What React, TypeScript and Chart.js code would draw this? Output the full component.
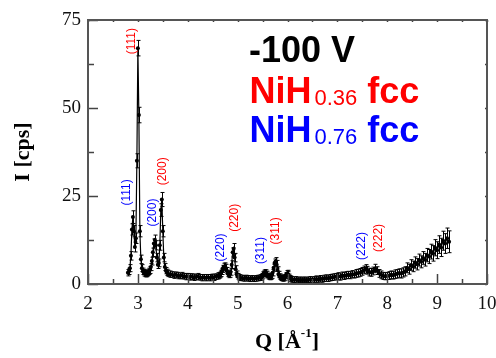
import { useEffect, useRef } from "react";
import { Chart, registerables } from "chart.js";

Chart.register(...registerables);

// ---- data ----
const qValues = [
  2.80, 2.82, 2.84, 2.86, 2.88, 2.90, 2.92, 2.94, 2.96, 2.98,
  3.00, 3.02, 3.04, 3.06, 3.08, 3.10, 3.12, 3.14, 3.16, 3.18,
  3.20, 3.22, 3.24, 3.26, 3.28, 3.30, 3.32, 3.34, 3.36, 3.38,
  3.40, 3.42, 3.44, 3.46, 3.48, 3.50, 3.52, 3.54, 3.56, 3.58, 3.60,
  3.64, 3.68, 3.72, 3.76, 3.80, 3.84, 3.88, 3.92, 3.96, 4.00,
  4.04, 4.08, 4.12, 4.16, 4.20, 4.24, 4.28, 4.32, 4.36, 4.40,
  4.44, 4.48, 4.52, 4.56, 4.60,
  4.62, 4.64, 4.66, 4.68, 4.70, 4.72, 4.74, 4.76, 4.78, 4.80,
  4.82, 4.84, 4.86, 4.88, 4.90, 4.92, 4.94, 4.96, 4.98, 5.00, 5.02, 5.04,
  5.08, 5.12, 5.16, 5.20, 5.24, 5.28, 5.32, 5.36, 5.40, 5.44,
  5.46, 5.48, 5.50, 5.52, 5.54, 5.56, 5.58, 5.60, 5.62, 5.64,
  5.66, 5.68, 5.70, 5.72, 5.74, 5.76, 5.78, 5.80, 5.82, 5.84,
  5.86, 5.88, 5.90, 5.92, 5.94, 5.96, 5.98, 6.00, 6.02, 6.04,
  6.06, 6.08, 6.10,
  6.14, 6.18, 6.22, 6.26, 6.30, 6.34, 6.38, 6.42, 6.46, 6.50,
  6.54, 6.58, 6.62, 6.66, 6.70, 6.74, 6.78, 6.82, 6.86, 6.90,
  6.94, 6.98, 7.02, 7.06, 7.10, 7.14, 7.18, 7.22, 7.26, 7.30, 7.34, 7.38,
  7.42, 7.46, 7.50, 7.54, 7.57, 7.60, 7.64, 7.68, 7.72, 7.76,
  7.80, 7.84, 7.88, 7.92, 7.96, 8.00,
  8.04, 8.08, 8.12, 8.16, 8.20, 8.24, 8.28, 8.32, 8.36, 8.40,
  8.44, 8.48, 8.52, 8.56, 8.60, 8.64, 8.68, 8.72, 8.76, 8.80,
  8.84, 8.88, 8.92, 8.96, 9.00, 9.04, 9.08, 9.12, 9.16, 9.20, 9.24,
];

const intensities = [
  3.2, 3.6, 4.5, 8.0, 15.5, 19.0, 15.0, 10.5, 13.0, 35.0,
  67.0, 48.0, 15.0, 7.0, 4.5, 3.6, 3.2, 3.0, 2.9, 3.0,
  3.3, 3.6, 4.0, 4.8, 6.5, 9.0, 11.5, 12.5, 11.0, 7.5,
  5.5, 6.0, 11.0, 21.0, 24.0, 15.0, 7.5, 4.8, 3.8, 3.3, 3.0,
  2.8, 2.7, 2.5, 2.6, 2.4, 2.3, 2.4, 2.2, 2.1, 2.2,
  2.0, 2.1, 1.9, 2.0, 2.1, 1.9, 1.8, 1.9, 1.8, 1.9,
  1.8, 2.0, 1.9, 2.1, 2.3,
  2.4, 2.6, 3.0, 3.6, 4.3, 4.9, 5.0, 4.6, 3.8, 3.0,
  2.6, 2.7, 3.4, 5.5, 9.0, 10.0, 7.5, 4.2, 2.8, 2.2, 1.9, 1.8,
  1.7, 1.6, 1.7, 1.6, 1.5, 1.6, 1.5, 1.6, 1.7, 1.8,
  1.9, 2.2, 2.6, 3.0, 3.2, 3.1, 2.7, 2.3, 2.1, 2.0,
  2.1, 2.4, 3.2, 4.6, 6.0, 6.4, 5.6, 3.9, 2.7, 2.1,
  1.8, 1.7, 1.6, 1.7, 1.9, 2.4, 2.9, 3.0, 2.6, 2.0,
  1.6, 1.4, 1.3,
  1.2, 1.3, 1.1, 1.2, 1.1, 1.2, 1.1, 1.2, 1.3, 1.2,
  1.3, 1.4, 1.3, 1.5, 1.4, 1.6, 1.7, 1.6, 1.8, 1.9,
  2.0, 2.1, 2.2, 2.1, 2.4, 2.3, 2.5, 2.6, 2.5, 2.8, 2.7, 3.0,
  3.1, 3.3, 3.6, 4.0, 4.3, 3.9, 3.4, 3.3, 3.7, 4.4,
  3.8, 3.0, 2.6, 2.3, 2.2, 2.3,
  2.4, 2.6, 2.5, 2.8, 2.9, 3.1, 3.0, 3.3, 3.6, 4.6,
  4.2, 5.4, 5.0, 6.1, 5.6, 6.8, 6.3, 7.4, 6.9, 8.2,
  7.8, 9.2, 8.7, 10.3, 9.6, 11.2, 10.4, 12.3, 11.5, 13.0, 12.0,
];

const errors = [
  0.9, 0.9, 1.0, 1.2, 1.6, 1.8, 1.6, 1.4, 1.5, 2.0,
  2.2, 2.2, 1.6, 1.2, 1.0, 0.9, 0.9, 0.9, 0.9, 0.9,
  0.9, 0.9, 1.0, 1.0, 1.1, 1.2, 1.3, 1.4, 1.3, 1.2,
  1.1, 1.1, 1.4, 1.8, 2.0, 1.6, 1.2, 1.0, 0.9, 0.9, 0.9,
  0.9, 0.8, 0.9, 0.8, 0.9, 0.8, 0.9, 0.8, 0.9, 0.8,
  0.9, 0.8, 0.9, 0.8, 0.9, 0.8, 0.9, 0.8, 0.9, 0.8,
  0.9, 0.8, 0.9, 0.8, 0.9,
  0.8, 0.8, 0.9, 0.9, 1.0, 1.0, 1.0, 1.0, 0.9, 0.9,
  0.8, 0.8, 0.9, 1.1, 1.3, 1.5, 1.2, 1.0, 0.9, 0.8, 0.8, 0.8,
  0.8, 0.8, 0.8, 0.8, 0.8, 0.8, 0.8, 0.8, 0.8, 0.8,
  0.8, 0.8, 0.9, 0.9, 0.9, 0.9, 0.9, 0.8, 0.8, 0.8,
  0.8, 0.8, 0.9, 1.0, 1.1, 1.1, 1.1, 1.0, 0.9, 0.8,
  0.8, 0.8, 0.8, 0.8, 0.8, 0.8, 0.9, 0.9, 0.9, 0.8,
  0.8, 0.8, 0.8,
  0.8, 0.8, 0.8, 0.8, 0.8, 0.8, 0.8, 0.8, 0.8, 0.8,
  0.8, 0.9, 0.8, 0.9, 0.9, 0.9, 0.9, 0.9, 0.9, 0.9,
  0.9, 0.9, 1.0, 1.0, 1.0, 1.0, 1.0, 1.0, 1.0, 1.0, 1.0, 1.1,
  1.1, 1.1, 1.1, 1.1, 1.2, 1.1, 1.1, 1.1, 1.1, 1.2,
  1.1, 1.1, 1.1, 1.0, 1.0, 1.0,
  1.1, 1.1, 1.1, 1.2, 1.2, 1.2, 1.3, 1.3, 1.3, 1.4,
  1.4, 1.5, 1.5, 1.6, 1.6, 1.7, 1.7, 1.8, 1.8, 1.9,
  2.0, 2.1, 2.2, 2.3, 2.4, 2.5, 2.6, 2.7, 2.8, 2.9, 3.1,
];

const xMin = 2;
const xMax = 10;
const yMin = 0;
const yMax = 75;
const xTickLabels = [2, 3, 4, 5, 6, 7, 8, 9, 10];
const yTickLabels = [0, 25, 50, 75];

// Miller-index annotations: text, phase, anchor (Q, I) in data units
const peakTexts = ["(111)", "(111)", "(200)", "(200)", "(220)", "(220)", "(311)", "(311)", "(222)", "(222)"];
const peakPhase = ["a", "b", "b", "a", "b", "a", "b", "a", "b", "a"];
const peakQ = [2.88, 2.77, 3.30, 3.50, 4.67, 4.94, 5.47, 5.77, 7.49, 7.83];
const peakI = [69.0, 26.0, 20.3, 32.0, 10.4, 18.8, 9.5, 15.1, 10.8, 13.1];

const titleText = "-100 V";
const phaseNames = ["NiH", "NiH"];
const phaseSubs = ["0.36", "0.76"];
const phaseSuffix = [" fcc", " fcc"];

const RED = "#ff0000";
const BLUE = "#0000ff";

const errorBarPlugin = {
  id: "errorBars",
  beforeDatasetsDraw(chart: any) {
    const { ctx, scales } = chart;
    const xs = scales.x;
    const ys = scales.y;
    ctx.save();
    ctx.strokeStyle = "#000";
    ctx.lineWidth = 1;
    ctx.beginPath();
    for (let i = 0; i < qValues.length; i++) {
      const px = Math.round(xs.getPixelForValue(qValues[i])) + 0.5;
      const top = ys.getPixelForValue(intensities[i] + errors[i]);
      const bot = ys.getPixelForValue(intensities[i] - errors[i]);
      ctx.moveTo(px, top);
      ctx.lineTo(px, bot);
      ctx.moveTo(px - 2, top);
      ctx.lineTo(px + 2, top);
      ctx.moveTo(px - 2, bot);
      ctx.lineTo(px + 2, bot);
    }
    ctx.stroke();
    ctx.restore();
  },
};

const framePlugin = {
  id: "frame",
  afterDraw(chart: any) {
    const { ctx, chartArea, scales } = chart;
    const { left, right, top, bottom } = chartArea;
    const xs = scales.x;
    const ys = scales.y;
    ctx.save();
    ctx.strokeStyle = "#444";
    ctx.lineWidth = 1.5;
    ctx.beginPath();
    xs.ticks.forEach((t: any) => {
      const px = Math.round(xs.getPixelForValue(t.value)) + 0.5;
      const major = Number.isInteger(t.value);
      ctx.moveTo(px, bottom);
      ctx.lineTo(px, bottom - (major ? 10 : 5));
      ctx.moveTo(px, top);
      ctx.lineTo(px, top + 2);
    });
    ys.ticks.forEach((t: any) => {
      const py = Math.round(ys.getPixelForValue(t.value)) + 0.5;
      const major = t.value % 25 === 0;
      ctx.moveTo(left, py);
      ctx.lineTo(left + (major ? 10 : 6), py);
      ctx.moveTo(right, py);
      ctx.lineTo(right - 2, py);
    });
    ctx.stroke();
    ctx.lineWidth = 2;
    ctx.strokeStyle = "#555";
    ctx.strokeRect(left, top, right - left, bottom - top);

    // peak labels
    ctx.font = "12px 'Liberation Sans', Arial, sans-serif";
    ctx.textAlign = "center";
    ctx.textBaseline = "middle";
    for (let i = 0; i < peakTexts.length; i++) {
      const px = xs.getPixelForValue(peakQ[i]);
      const py = ys.getPixelForValue(peakI[i]);
      ctx.save();
      ctx.translate(px, py);
      ctx.rotate(-Math.PI / 2);
      ctx.fillStyle = peakPhase[i] === "a" ? RED : BLUE;
      ctx.fillText(peakTexts[i], 0, 0);
      ctx.restore();
    }

    // legend block
    ctx.textAlign = "left";
    ctx.textBaseline = "alphabetic";
    const lx = 249.5;
    ctx.fillStyle = "#000";
    ctx.font = "bold 36px 'Liberation Sans', Arial, sans-serif";
    ctx.fillText(titleText, lx - 0.5, 62);
    const baselines = [103, 142];
    const colors = [RED, BLUE];
    for (let i = 0; i < 2; i++) {
      ctx.fillStyle = colors[i];
      ctx.font = "bold 36px 'Liberation Sans', Arial, sans-serif";
      ctx.fillText(phaseNames[i], lx, baselines[i]);
      let x = lx + ctx.measureText(phaseNames[i]).width + 3;
      ctx.font = "22px 'Liberation Sans', Arial, sans-serif";
      ctx.fillText(phaseSubs[i], x, baselines[i] + 2);
      x += ctx.measureText(phaseSubs[i]).width;
      ctx.font = "bold 36px 'Liberation Sans', Arial, sans-serif";
      ctx.fillText(phaseSuffix[i], x, baselines[i]);
    }

    // axis titles
    ctx.fillStyle = "#000";
    ctx.font = "bold 22px 'Liberation Serif', 'Times New Roman', serif";
    ctx.save();
    ctx.translate(29, 152);
    ctx.rotate(-Math.PI / 2);
    ctx.textAlign = "center";
    ctx.fillText("I [cps]", 0, 0);
    ctx.restore();

    ctx.textAlign = "left";
    const partA = "Q [Å";
    const sup = "-1";
    const partB = "]";
    const bigFont = "bold 22px 'Liberation Serif', 'Times New Roman', serif";
    const supFont = "bold 13px 'Liberation Serif', 'Times New Roman', serif";
    ctx.font = bigFont;
    const wA = ctx.measureText(partA).width;
    const wB = ctx.measureText(partB).width;
    ctx.font = supFont;
    const wS = ctx.measureText(sup).width;
    const total = wA + wS + wB;
    let tx = 287 - total / 2;
    const by = 348;
    ctx.font = bigFont;
    ctx.fillText(partA, tx, by);
    tx += wA;
    ctx.font = supFont;
    ctx.fillText(sup, tx, by - 11);
    tx += wS;
    ctx.font = bigFont;
    ctx.fillText(partB, tx, by);
    ctx.restore();
  },
};

export default function App() {
  const ref = useRef<HTMLCanvasElement | null>(null);
  useEffect(() => {
    document.body.style.margin = "0";
    const canvas = ref.current;
    if (!canvas) return;
    const chart = new Chart(canvas, {
      type: "scatter",
      data: {
        datasets: [
          {
            data: qValues.map((q, i) => ({ x: q, y: intensities[i] })),
            showLine: true,
            borderColor: "#000",
            borderWidth: 1.2,
            pointRadius: 2,
            pointBackgroundColor: "#000",
            pointBorderColor: "#000",
            pointBorderWidth: 0,
          },
        ],
      },
      options: {
        animation: false,
        responsive: false,
        devicePixelRatio: 1,
        layout: { padding: { left: 0, right: 9, top: 20, bottom: 0 } },
        plugins: {
          legend: { display: false },
          tooltip: { enabled: false },
        },
        scales: {
          x: {
            type: "linear",
            min: xMin,
            max: xMax,
            grid: { display: false, drawTicks: false },
            border: { display: false },
            afterFit: (s: any) => {
              s.height = 74;
              s.paddingLeft = 0;
              s.paddingRight = 0;
            },
            ticks: {
              stepSize: 0.5,
              autoSkip: false,
              maxRotation: 0,
              padding: 9,
              color: "#111",
              font: { family: "'Liberation Serif', 'Times New Roman', serif", size: 19 },
              callback: (v: any) => (xTickLabels.includes(v) ? String(v) : ""),
            },
          },
          y: {
            type: "linear",
            min: yMin,
            max: yMax,
            grid: { display: false, drawTicks: false },
            border: { display: false },
            afterFit: (s: any) => {
              s.width = 88;
              s.paddingTop = 0;
              s.paddingBottom = 0;
            },
            ticks: {
              stepSize: 12.5,
              autoSkip: false,
              padding: 7,
              color: "#111",
              font: { family: "'Liberation Serif', 'Times New Roman', serif", size: 19 },
              callback: (v: any) => (yTickLabels.includes(v) ? String(v) : ""),
            },
          },
        },
      },
      plugins: [errorBarPlugin, framePlugin],
    });
    return () => chart.destroy();
  }, []);
  return (
    <div style={{ width: 496, height: 358, position: "relative" }}>
      <canvas ref={ref} width={496} height={358} style={{ display: "block" }} />
    </div>
  );
}
